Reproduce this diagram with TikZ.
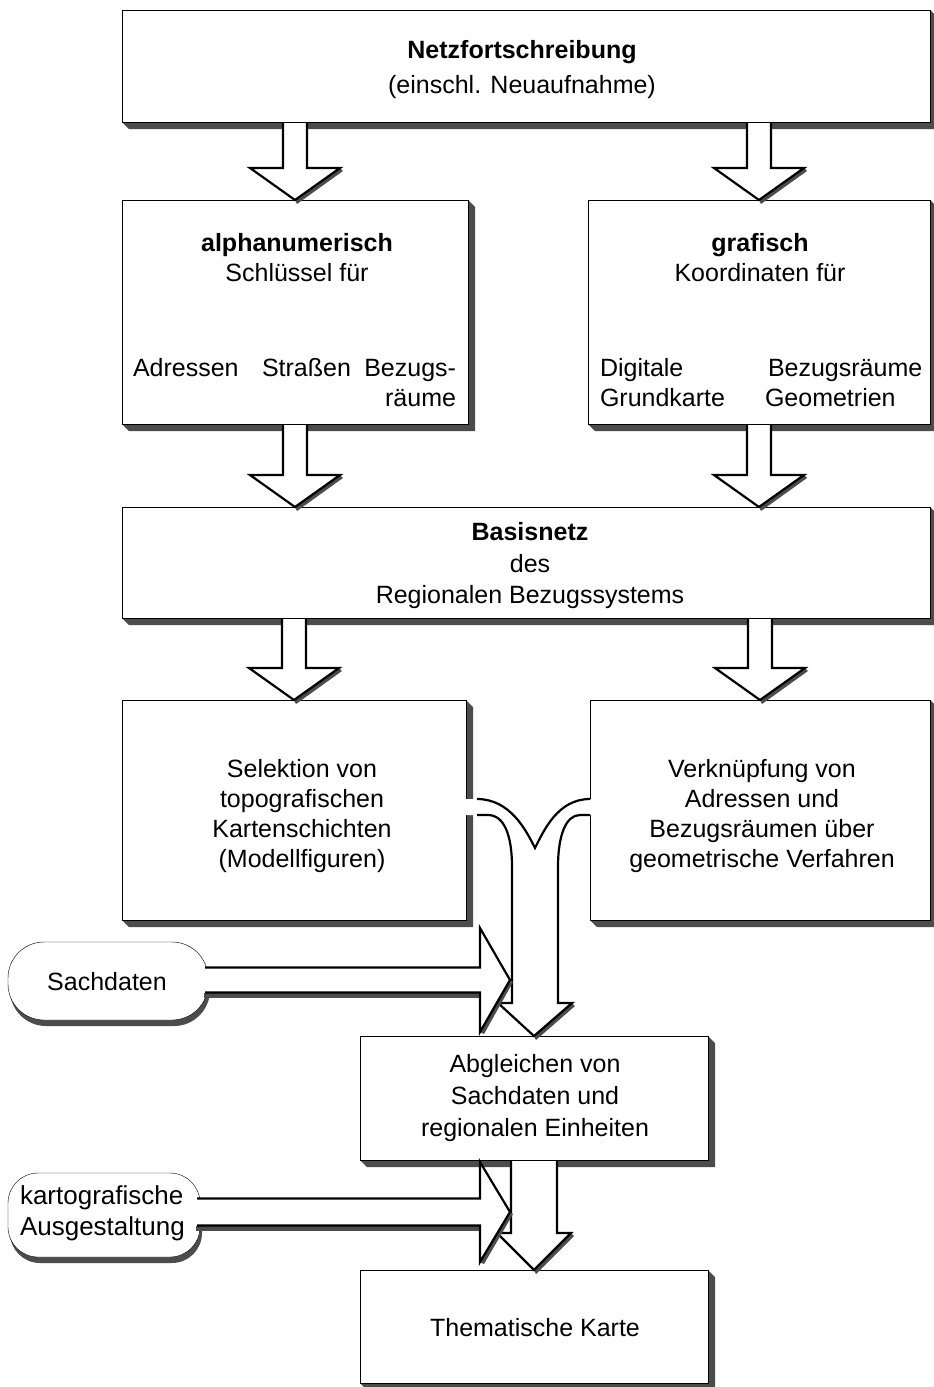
\documentclass[tikz,border=0pt]{standalone}
\usepackage{fontspec}
\setmainfont{Liberation Sans}
\usetikzlibrary{calc,shadows}
\definecolor{shadowgray}{gray}{0.3}
\pgfdeclarelayer{bg}
\pgfsetlayers{bg,main}
\tikzset{outline/.style={draw=black,line width=2.2pt,line join=miter}}

% bevelled shadow along the right and bottom edge of a box node
\newcommand\boxshadow[1]{%
  \fill[shadowgray] (#1.north east) -- ([shift={(7,7)}]#1.north east)
    -- ([shift={(7,7)}]#1.south east) -- ([shift={(7,7)}]#1.south west)
    -- (#1.south west) -- (#1.south east) -- cycle;}

% hollow block arrow from the bottom of #1 down to the top of #2,
% placed under the centre of #3; #4 half stem, #5 half head, #6 head length
\newcommand\blockdown[6]{%
  \coordinate (tip) at (#3.center |- #2.north);
  \coordinate (base) at (#3.center |- #1.south);
  \fill[white] ([shift={(-#4,1)}]base) -- ([shift={(-#4,-#6)}]tip)
    -- ([shift={(-#5,-#6)}]tip) -- (tip) -- ([shift={(#5,-#6)}]tip)
    -- ([shift={(#4,-#6)}]tip) -- ([shift={(#4,1)}]base) -- cycle;
  \fill[shadowgray] ([shift={(#5,-#6)}]tip) -- (tip) -- ([shift={(2,4)}]tip)
    -- ([shift={({#5+3},{-#6+3})}]tip) -- cycle;
  \path[outline] ([shift={(-#4,0)}]base) -- ([shift={(-#4,-#6)}]tip)
    -- ([shift={(-#5,-#6)}]tip) -- (tip) -- ([shift={(#5,-#6)}]tip)
    -- ([shift={(#4,-#6)}]tip) -- ([shift={(#4,0)}]base);}

% hollow block arrow from the right end of node #1 to coordinate #2;
% #3 half stem, #4 half head, #5 head length
\newcommand\blockright[5]{%
  \coordinate (base) at (#1.east |- #2);
  \fill[shadowgray] ([shift={(-4,#3)}]base) rectangle ([shift={(-#5,{#3+5})}]#2);
  \fill[shadowgray] ([shift={(-#5,#4)}]#2) -- (#2) -- ([shift={(3,2)}]#2)
    -- ([shift={({-#5+4},{#4+2})}]#2) -- cycle;
  \fill[white] ([shift={(-12,-#3)}]base) -- ([shift={(-#5,-#3)}]#2)
    -- ([shift={(-#5,-#4)}]#2) -- (#2) -- ([shift={(-#5,#4)}]#2)
    -- ([shift={(-#5,#3)}]#2) -- ([shift={(-12,#3)}]base) -- cycle;
  \path[outline] ([shift={(-3,-#3)}]base) -- ([shift={(-#5,-#3)}]#2)
    -- ([shift={(-#5,-#4)}]#2) -- (#2) -- ([shift={(-#5,#4)}]#2)
    -- ([shift={(-#5,#3)}]#2) -- ([shift={(-3,#3)}]base);}

\begin{document}
\begin{tikzpicture}[x=1pt,y=-1pt,line width=2pt,
  box/.style={draw,fill=white,rectangle,inner sep=0pt,outer sep=0pt},
  term/.style={draw,fill=white,rectangle,inner sep=0pt,outer sep=0pt,
    drop shadow={shadow xshift=2pt,shadow yshift=-6pt,fill=shadowgray,opacity=1}},
  txt/.style={inner sep=0pt,outer sep=0pt,align=center,
    font=\fontsize{25}{31}\selectfont},
  lbl/.style={inner sep=0pt,outer sep=0pt,font=\fontsize{25}{31}\selectfont}]

\begin{pgfonlayer}{bg}
  \fill[white] (0,0) rectangle (934,1387);
\end{pgfonlayer}
\useasboundingbox (0,0) rectangle (934,1387);

% boxes
\node[box,minimum width=808,minimum height=112] (n1) at (526,66) {};
\node[box,minimum width=346,minimum height=224] (n2a) at (295,312) {};
\node[box,minimum width=342,minimum height=224] (n2b) at (759,312) {};
\node[box,minimum width=808,minimum height=111] (n3) at (526,562.5) {};
\node[box,minimum width=344,minimum height=220] (n4a) at (294,810) {};
\node[box,minimum width=340,minimum height=220] (n4b) at (760,810) {};
\node[box,minimum width=348,minimum height=124] (n5) at (534,1098) {};
\node[box,minimum width=348,minimum height=113] (n6) at (534,1326.5) {};

% input terminals
\node[term,rounded corners=36,minimum width=200,minimum height=78] (s1) at (108,981) {};
\node[term,rounded corners=30,minimum width=192,minimum height=84] (s2) at (104,1215) {};

\begin{pgfonlayer}{bg}
  \foreach \b in {n1,n2a,n2b,n3,n4a,n4b,n5,n6} {\boxshadow{\b}}
\end{pgfonlayer}

% downward flow
\blockdown{n1}{n2a}{n2a}{12}{45}{32}
\blockdown{n1}{n2b}{n2b}{12}{45}{32}
\blockdown{n2a}{n3}{n2a}{12}{45}{32}
\blockdown{n2b}{n3}{n2b}{12}{45}{32}
\blockdown{n3}{n4a}{n4a}{12}{45}{32}
\blockdown{n3}{n4b}{n4b}{12}{45}{32}

% both middle boxes join into one arrow towards n5
\fill[white] (458,799) -- (477,799) .. controls (510,799) and (526,830) .. (535,848)
  .. controls (544,830) and (558,799) .. (598,799) -- (598,815) -- (580,815)
  .. controls (566,815) and (558,835) .. (558,867) -- (558,1003) -- (572,1003)
  -- (n5.north) -- (498,1003) -- (512,1003) -- (512,867)
  .. controls (512,835) and (504,815) .. (488,815) -- (458,815) -- cycle;
\fill[shadowgray] (572,1003) -- (n5.north) -- ([shift={(2,4)}]n5.north) -- (575,1006) -- cycle;
\path[outline] (477,799) .. controls (510,799) and (526,830) .. (535,848)
  .. controls (544,830) and (558,799) .. (590,799);
\path[outline] (477,815) -- (488,815) .. controls (504,815) and (512,835) .. (512,867)
  -- (512,1003) -- (498,1003) -- (n5.north) -- (572,1003) -- (558,1003)
  -- (558,867) .. controls (558,835) and (566,815) .. (580,815) -- (590,815);

% factual data entering the merged arrow
\coordinate (m1) at (510,980);
\blockright{s1}{m1}{12.5}{52}{30}

\blockdown{n5}{n6}{n5}{23}{37}{37}

% cartographic design entering before the final map
\coordinate (m2) at (510,1212);
\blockright{s2}{m2}{13.5}{50}{30}

% texts
\node[txt,font=\fontsize{25}{35}\selectfont] (t1) at (522,70)
  {\textbf{Netzfortschreibung}\\(einschl. Neuaufnahme)};
\node[txt,font=\fontsize{25}{30}\selectfont] (t2a) at (297,258)
  {\textbf{alphanumerisch}\\Schlüssel für};
\node[lbl,anchor=base west] (t2a1) at (133,376) {Adressen};
\node[lbl,anchor=base west] (t2a2) at (262,376) {Straßen};
\node[lbl,anchor=base east] (t2a3) at (456,376) {Bezugs-};
\node[lbl,anchor=base east] (t2a4) at (456,406) {räume};
\node[txt,font=\fontsize{25}{30}\selectfont] (t2b) at (760,258)
  {\textbf{grafisch}\\Koordinaten für};
\node[lbl,anchor=base west] (t2b1) at (600,376) {Digitale};
\node[lbl,anchor=base west] (t2b2) at (600,406) {Grundkarte};
\node[lbl,anchor=base west] (t2b3) at (768,376) {Bezugsräume};
\node[lbl,anchor=base west] (t2b4) at (765,406) {Geometrien};
\node[txt,font=\fontsize{25}{31.5}\selectfont] (t3) at (530,566)
  {\textbf{Basisnetz}\\des\\Regionalen Bezugssystems};
\node[txt,font=\fontsize{25}{30}\selectfont] (t4a) at (302,816)
  {Selektion von\\topografischen\\Kartenschichten\\(Modellfiguren)};
\node[txt,font=\fontsize{25}{30}\selectfont] (t4b) at (762,816)
  {Verknüpfung von\\Adressen und\\Bezugsräumen über\\geometrische Verfahren};
\node[txt,font=\fontsize{25}{32}\selectfont] (t5) at (535,1098)
  {Abgleichen von\\Sachdaten und\\regionalen Einheiten};
\node[txt] (t6) at (535,1328) {Thematische Karte};
\node[txt] (ts1) at (107,982) {Sachdaten};
\node[txt,align=left,anchor=west,font=\fontsize{26}{31}\selectfont] (ts2) at (20,1213)
  {kartografische\\Ausgestaltung};
\end{tikzpicture}
\end{document}
